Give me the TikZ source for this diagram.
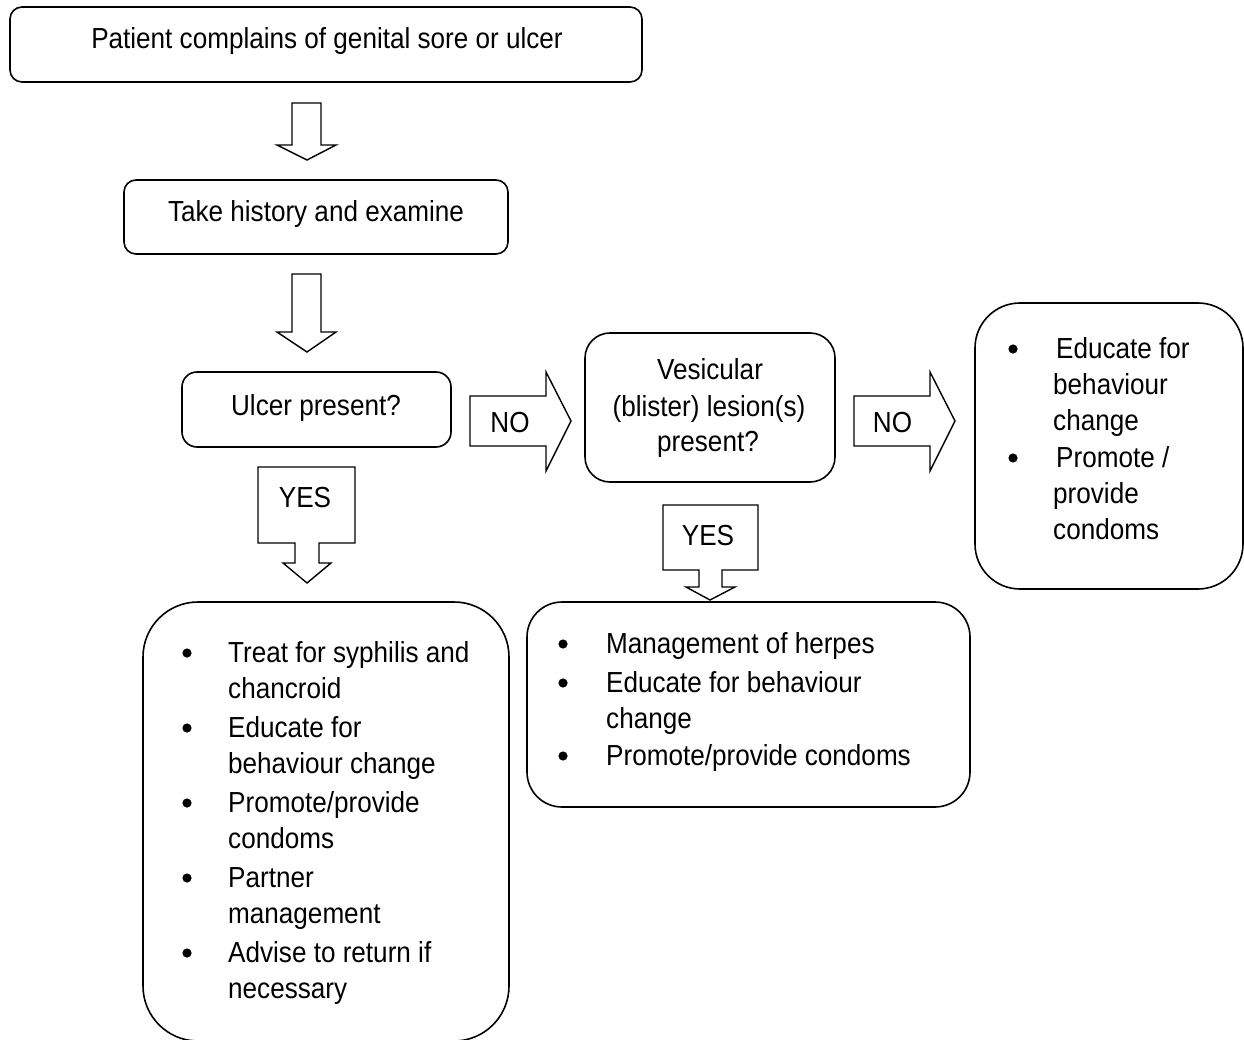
\documentclass[tikz,border=0pt]{standalone}
\usepackage{fontspec}
\setmainfont{Liberation Sans}[FakeStretch=0.9]
\begin{document}
\begin{tikzpicture}[x=1pt,y=-1pt,
  box/.style={draw, line width=1.6pt, inner sep=0pt, outer sep=0pt},
  txt/.style={inner sep=0pt, anchor=base, font=\fontsize{29}{36}\selectfont},
  ltxt/.style={txt, anchor=base west},
  blockarrow/.style={draw, line width=1.4pt, line join=miter},
  dot/.style={fill=black}]
\useasboundingbox (0,0) rectangle (1244,1040);

% ---- boxes ----
\node[box, rounded corners=12pt, minimum width=632pt, minimum height=75pt] (start) at (326,44.5) {};
\node[box, rounded corners=12pt, minimum width=384pt, minimum height=74pt] (hist) at (316,217) {};
\node[box, rounded corners=15pt, minimum width=269pt, minimum height=75pt] (ulcer) at (316.5,409.5) {};
\node[box, rounded corners=25pt, minimum width=250pt, minimum height=149pt] (vesic) at (710,407.5) {};
\node[box, rounded corners=45pt, minimum width=268pt, minimum height=286pt] (none) at (1109,446) {};
\node[box, rounded corners=35pt, minimum width=443pt, minimum height=205pt] (herpes) at (748.5,704.5) {};
\node[box, rounded corners=55pt, minimum width=366pt, minimum height=439pt] (treat) at (326,821.5) {};

% ---- box texts ----
\node[txt] (tstart) at (327,48.5) {Patient complains of genital sore or ulcer};
\node[txt] (thist) at (316,222) {Take history and examine};
\node[txt] (tulcer) at (316,415) {Ulcer present?};
\node[txt] (tv1) at (710,379) {Vesicular};
\node[txt] (tv2) at (709,416) {(blister) lesion(s)};
\node[txt] (tv3) at (708,451) {present?};

% ---- block arrows ----
\draw[blockarrow] (292,103) -- (321,103) -- (321,145) -- (336,145) -- (307,160)
  -- (277,145) -- (292,145) -- cycle;
\draw[blockarrow] (292,274) -- (321,274) -- (321,332) -- (336,332) -- (307,352)
  -- (277,332) -- (292,332) -- cycle;
\draw[blockarrow] (470,396) -- (546,396) -- (546,372) -- (571,421) -- (546,471)
  -- (546,446) -- (470,446) -- cycle;
\draw[blockarrow] (854,396) -- (930,396) -- (930,372) -- (955,421) -- (930,471)
  -- (930,446) -- (854,446) -- cycle;
\draw[blockarrow] (258,467) -- (355,467) -- (355,543) -- (319,543) -- (319,563)
  -- (331,563) -- (307,583) -- (283,563) -- (295,563) -- (295,543) -- (258,543) -- cycle;
\draw[blockarrow] (663,505) -- (758,505) -- (758,570) -- (722,570) -- (722,587)
  -- (735,587) -- (710,600) -- (686,587) -- (699,587) -- (699,570) -- (663,570) -- cycle;

\node[txt] (no1) at (510,432) {NO};
\node[txt] (no2) at (892.5,432) {NO};
\node[txt] (yes1) at (305,507) {YES};
\node[txt] (yes2) at (708,545) {YES};

% ---- right box list ----
\fill[dot] (1013,349) circle (4.6pt);
\fill[dot] (1013,458) circle (4.6pt);
\node[ltxt] (n1) at (1056,358) {Educate for};
\node[ltxt] (n2) at (1053,394) {behaviour};
\node[ltxt] (n3) at (1053,430) {change};
\node[ltxt] (n4) at (1056,467) {Promote /};
\node[ltxt] (n5) at (1053,503) {provide};
\node[ltxt] (n6) at (1053,539) {condoms};

% ---- middle box list ----
\fill[dot] (563,644) circle (4.6pt);
\fill[dot] (563,683) circle (4.6pt);
\fill[dot] (563,756) circle (4.6pt);
\node[ltxt] (h1) at (606,653) {Management of herpes};
\node[ltxt] (h2) at (606,692) {Educate for behaviour};
\node[ltxt] (h3) at (606,728) {change};
\node[ltxt] (h4) at (606,765) {Promote/provide condoms};

% ---- left box list ----
\fill[dot] (187,653) circle (4.6pt);
\fill[dot] (187,728) circle (4.6pt);
\fill[dot] (187,803) circle (4.6pt);
\fill[dot] (187,878) circle (4.6pt);
\fill[dot] (187,953) circle (4.6pt);
\node[ltxt] (s1) at (228,662) {Treat for syphilis and};
\node[ltxt] (s2) at (228,698) {chancroid};
\node[ltxt] (s3) at (228,737) {Educate for};
\node[ltxt] (s4) at (228,773) {behaviour change};
\node[ltxt] (s5) at (228,812) {Promote/provide};
\node[ltxt] (s6) at (228,848) {condoms};
\node[ltxt] (s7) at (228,887) {Partner};
\node[ltxt] (s8) at (228,923) {management};
\node[ltxt] (s9) at (228,962) {Advise to return if};
\node[ltxt] (s10) at (228,998) {necessary};
\end{tikzpicture}
\end{document}
